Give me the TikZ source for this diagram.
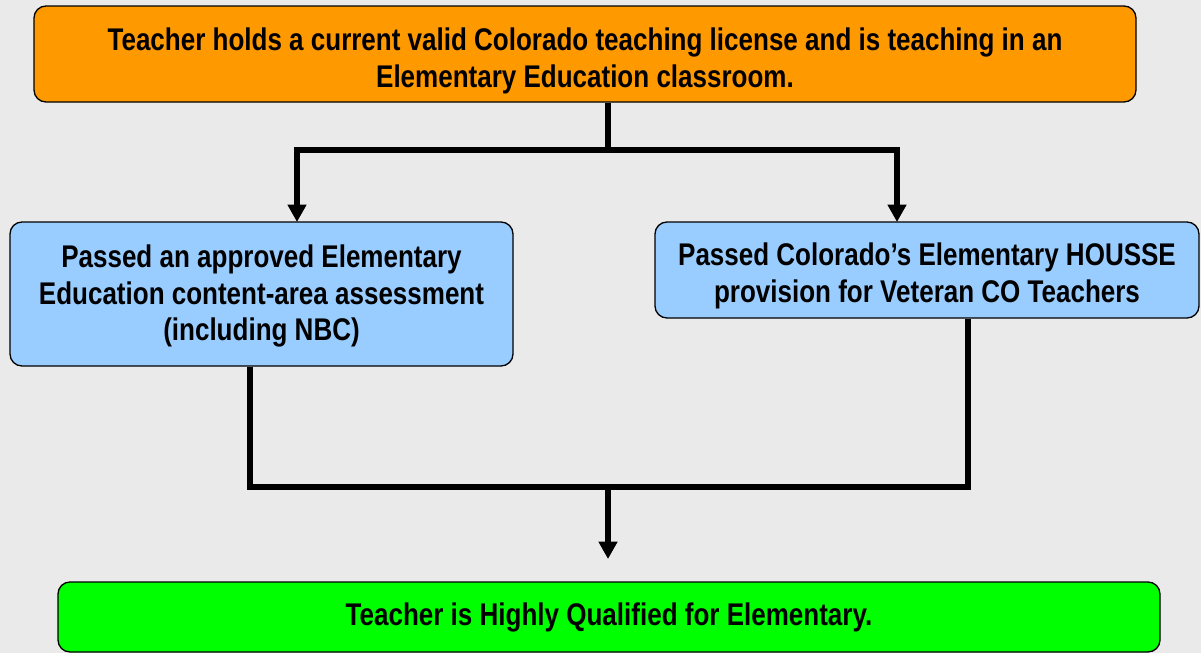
\documentclass[tikz,border=0pt]{standalone}
\usepackage{fontspec}
\setmainfont{Liberation Sans}[FakeStretch=0.83]
\usepackage{xcolor}
\usepackage{tikz}
\usetikzlibrary{positioning,calc,arrows.meta}

\definecolor{bggray}{HTML}{EAEAEA}
\definecolor{certorange}{HTML}{FF9900}
\definecolor{pathblue}{HTML}{99CCFF}
\definecolor{hqgreen}{HTML}{00FF00}

\tikzset{
    box/.style={draw=black, line width=1pt, rounded corners=9pt, inner sep=0pt,
        align=center, font=\fontsize{23.5}{27.5}\selectfont\bfseries},
    flow/.style={line width=4.2pt, -{Triangle[length=13pt,width=13.5pt]}},
    joint/.style={line width=4.2pt}
}

\begin{document}
\begin{tikzpicture}[x=0.75pt,y=-0.75pt]
    \fill[bggray] (0,0) rectangle (1201,653);
    \useasboundingbox (0,0) rectangle (1201,653);

    \node[box, fill=certorange, minimum width=826.5pt, minimum height=72pt] (cert) at (585,54)
        {\rule{0pt}{27.5pt}Teacher holds a current valid Colorado teaching license and is teaching in an\\Elementary Education classroom.};
    \node[box, fill=pathblue, minimum width=377.25pt, minimum height=108pt] (exam) at (261.5,294)
        {\rule{0pt}{20pt}Passed an approved Elementary\\Education content-area assessment\\(including NBC)};
    \node[box, fill=pathblue, minimum width=408pt, minimum height=72pt] (housse) at (927,270)
        {\rule{0pt}{26pt}Passed Colorado’s Elementary HOUSSE\\provision for Veteran CO Teachers};
    \node[box, fill=hqgreen, minimum width=826.5pt, minimum height=52.5pt] (hq) at (609,617)
        {Teacher is Highly Qualified for Elementary.};

    % split from the license box
    \coordinate (split) at (608,150);
    \coordinate (examin) at (297,222);
    \coordinate (houssein) at (897,222);
    \draw[joint] (cert.south -| split) -- (split);
    \draw[flow] (split) -| (examin);
    \draw[flow] (split) -| (houssein);

    % join into the result
    \coordinate (exout) at (250,487);
    \coordinate (hsout) at (968,487);
    \coordinate (merge) at (608,487);
    \coordinate (hqin) at (608,559);
    \draw[joint] (exam.south -| exout) -- (exout) -- (hsout) -- (housse.south -| hsout);
    \draw[flow] (merge) -- (hqin);
\end{tikzpicture}
\end{document}
